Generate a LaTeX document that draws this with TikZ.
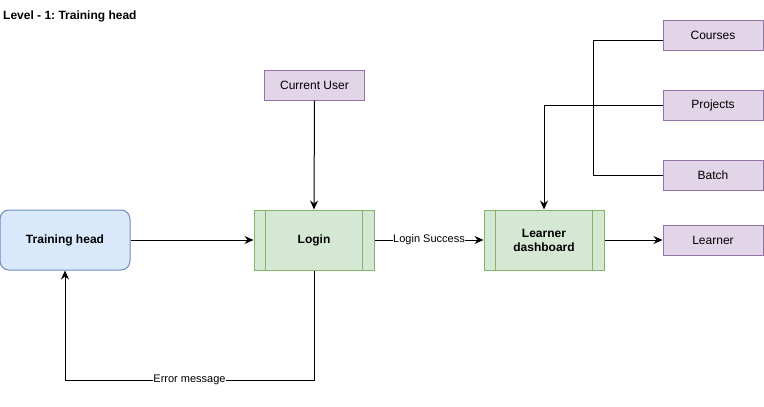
\documentclass[tikz,border=0pt]{standalone}
\usepackage{fontspec}
\setmainfont{Liberation Sans}
\usetikzlibrary{arrows.meta}
\definecolor{bluefill}{HTML}{DAE8FC}
\definecolor{bluedraw}{HTML}{6C8EBF}
\definecolor{greenfill}{HTML}{D5E8D4}
\definecolor{greendraw}{HTML}{82B366}
\definecolor{purplefill}{HTML}{E1D5E7}
\definecolor{purpledraw}{HTML}{9673A6}
\frenchspacing
\begin{document}
\begin{tikzpicture}[x=1pt,y=-1pt,
  base/.style={inner sep=0pt, line width=1pt, align=center},
  bluebox/.style={base, rectangle, draw=bluedraw, fill=bluefill, rounded corners=9pt,
    minimum width=130pt, minimum height=60pt, font=\fontsize{12}{14}\selectfont\bfseries},
  procbox/.style={base, rectangle, draw=greendraw, fill=greenfill,
    minimum width=120pt, minimum height=60pt, font=\fontsize{12}{14}\selectfont\bfseries},
  databox/.style={base, rectangle, draw=purpledraw, fill=purplefill,
    minimum width=100pt, minimum height=30pt, font=\fontsize{12}{14}\selectfont},
  conn/.style={line width=1pt, black},
  arr/.style={conn, -{Stealth[length=9pt,width=8pt,inset=3pt]}},
  lbl/.style={fill=white, inner sep=0.5pt, font=\fontsize{11}{13}\selectfont},
  innerline/.style={draw=greendraw, line width=1pt}
]
\useasboundingbox (0,0) rectangle (764,407);
\fill[white] (0,0) rectangle (764,407);

\node[anchor=base west, inner sep=0pt, font=\fontsize{12}{14}\selectfont\bfseries] (title) at (3,19) {Level - 1: Training head};

\node[bluebox] (th) at (65,240) {Training head};
\node[procbox] (login) at (314,240) {Login};
\node[procbox] (ld) at (544,240) {Learner\\dashboard};
\node[databox] (cu) at (314.5,85) {Current User};
\node[databox] (courses) at (713,35) {Courses};
\node[databox] (projects) at (713,105) {Projects};
\node[databox] (batch) at (713,175) {Batch};
\node[databox] (learner) at (713,240) {Learner};

% inner lines of process boxes
\draw[innerline] ([xshift=12pt]login.north west) -- ([xshift=12pt]login.south west);
\draw[innerline] ([xshift=-12pt]login.north east) -- ([xshift=-12pt]login.south east);
\draw[innerline] ([xshift=12pt]ld.north west) -- ([xshift=12pt]ld.south west);
\draw[innerline] ([xshift=-12pt]ld.north east) -- ([xshift=-12pt]ld.south east);

% connectors
\draw[arr] (th.east) -- (login.west);
\draw[arr] (cu.south) -- (login.north);
\draw[arr] (login.east) -- node[lbl] {Login Success} (ld.west);
\draw[arr] (ld.east) -- (learner.west);
\draw[arr] (projects.west) -| (ld.north);

\coordinate (cb) at (593,40);
\draw[conn] (courses.west |- cb) -- (cb) |- (batch.west);

\coordinate (eb) at (314,380);
\draw[arr] (login.south) -- (eb) -| node[lbl, pos=0.25] {Error message} (th.south);
\end{tikzpicture}
\end{document}
